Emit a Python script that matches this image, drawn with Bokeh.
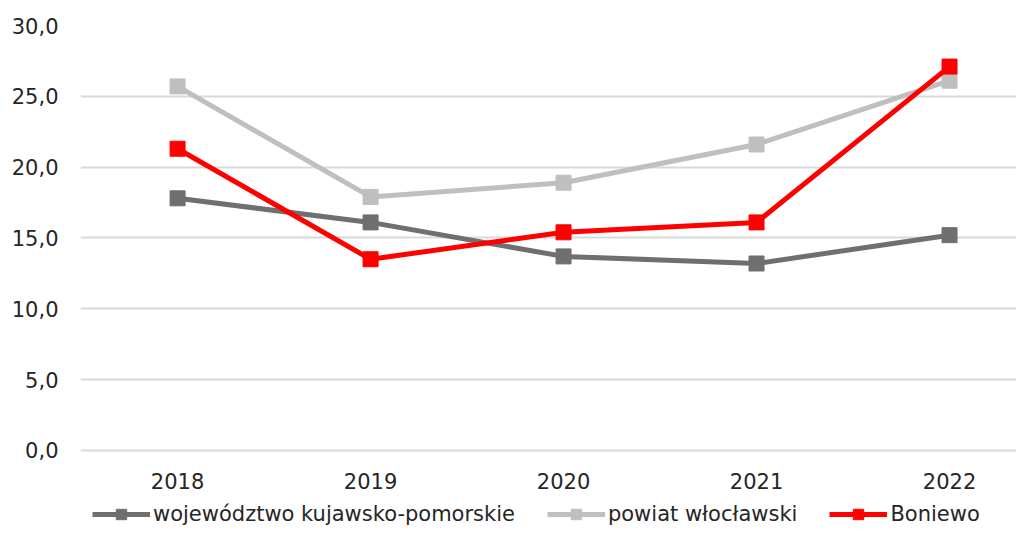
from bokeh.plotting import figure
from bokeh.models import Legend, LegendItem, FixedTicker, Range1d, CustomJSTickFormatter
from bokeh.core.properties import value
from bokeh.embed import file_html
from bokeh.resources import INLINE

years = [2018, 2019, 2020, 2021, 2022]
year_labels = ["2018", "2019", "2020", "2021", "2022"]
wojewodztwo = [17.8, 16.1, 13.7, 13.2, 15.2]
powiat = [25.7, 17.9, 18.9, 21.6, 26.1]
boniewo = [21.3, 13.5, 15.4, 16.1, 27.1]
y_ticks = [0, 5, 10, 15, 20, 25, 30]

series = [
    ("województwo kujawsko-pomorskie", wojewodztwo, "#6f6f6f"),
    ("powiat włocławski", powiat, "#bfbfbf"),
    ("Boniewo", boniewo, "#ff0000"),
]

FONT = "DejaVu Sans"
TEXT = "#262626"

p = figure(width=1016, height=528, output_backend="svg", toolbar_location=None,
           x_range=Range1d(2017.497, 2022.347), y_range=Range1d(-5.508, 30),
           min_border_left=80, min_border_right=0, min_border_top=25, min_border_bottom=0)
p.outline_line_color = None
p.xgrid.grid_line_color = None
p.ygrid.grid_line_color = "#d9d9d9"
p.ygrid.grid_line_width = 2
p.yaxis.ticker = FixedTicker(ticks=y_ticks)
p.yaxis.formatter = CustomJSTickFormatter(code="return tick.toFixed(1).replace('.', ',');")
p.yaxis.axis_line_color = None
p.yaxis.major_tick_line_color = None
p.yaxis.minor_tick_line_color = None
p.yaxis.major_label_text_font = FONT
p.yaxis.major_label_text_font_size = "21px"
p.yaxis.major_label_text_color = TEXT
p.yaxis.major_label_standoff = 16
p.xaxis.visible = False

# category labels along the bottom
p.text(x=years, y=[-2.19] * len(years), text=year_labels, text_align="center",
       text_baseline="middle", text_font=value(FONT), text_font_size="21px",
       text_color=TEXT)

items = []
for name, vals, color in series:
    r1 = p.line(years, vals, line_color=color, line_width=5)
    r2 = p.scatter(years, vals, marker="square", size=15, fill_color=color, line_color=color)
    items.append(LegendItem(label=name, renderers=[r1, r2]))

legend = Legend(items=items, orientation="horizontal", location=(12, 1),
                label_text_font=FONT, label_text_font_size="21px", label_text_color=TEXT,
                glyph_width=58, glyph_height=26, label_standoff=3, spacing=32,
                padding=0, margin=0, border_line_color=None, background_fill_alpha=0)
p.add_layout(legend, "center")

open("out.html", "w").write(file_html(p, INLINE))
